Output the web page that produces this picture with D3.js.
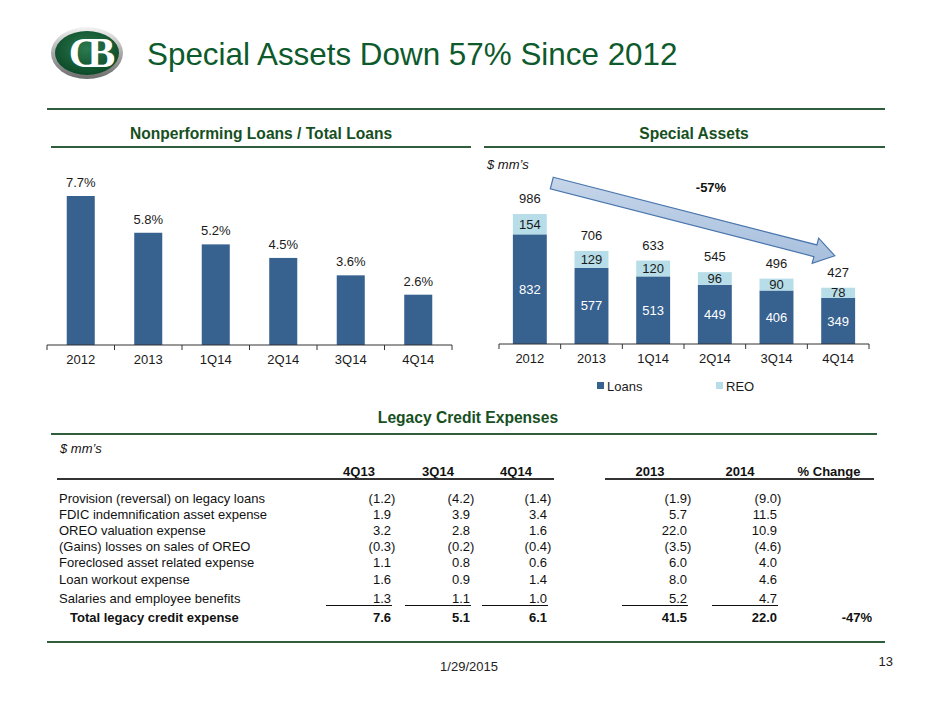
<!DOCTYPE html>
<head>
    <meta charset="utf-8">
    <title>Special Assets Down 57% Since 2012</title>
    <style>
        body { margin: 0; background: #fff; }
        svg { display: block; font-family: "Liberation Sans", Arial, sans-serif; }
        .rule { stroke: #2f5e3c; stroke-width: 2; }
        .section { font-size: 15.6px; font-weight: bold; fill: #17501f; text-anchor: middle; }
        .axis text { font-size: 13px; fill: #1a1a1a; }
        .axis path, .axis line { stroke: #333; }
        .lbl { font-size: 13px; fill: #1a1a1a; text-anchor: middle; }
        .tbl { font-size: 13px; fill: #111; }
    </style>
</head>
<body>

<svg width="940" height="705"></svg>

<script src="https://cdn.jsdelivr.net/npm/d3@7"></script>

<script>

    // ---- data ----
    var categories = ["2012", "2013", "1Q14", "2Q14", "3Q14", "4Q14"];
    var nplRatio = [7.7, 5.8, 5.2, 4.5, 3.6, 2.6];
    var loans = [832, 577, 513, 449, 406, 349];
    var reo = [154, 129, 120, 96, 90, 78];
    var totals = [986, 706, 633, 545, 496, 427];

    var rowLabels = [
        "Provision (reversal) on legacy loans",
        "FDIC indemnification asset expense",
        "OREO valuation expense",
        "(Gains) losses on sales of OREO",
        "Foreclosed asset related expense",
        "Loan workout expense",
        "Salaries and employee benefits"
    ];
    var colHeaders = ["4Q13", "3Q14", "4Q14", "2013", "2014", "% Change"];
    var col4Q13 = [-1.2, 1.9, 3.2, -0.3, 1.1, 1.6, 1.3];
    var col3Q14 = [-4.2, 3.9, 2.8, -0.2, 0.8, 0.9, 1.1];
    var col4Q14 = [-1.4, 3.4, 1.6, -0.4, 0.6, 1.4, 1.0];
    var col2013 = [-1.9, 5.7, 22.0, -3.5, 6.0, 8.0, 5.2];
    var col2014 = [-9.0, 11.5, 10.9, -4.6, 4.0, 4.6, 4.7];
    var totalRow = [7.6, 5.1, 6.1, 41.5, 22.0];
    var pctChange = "-47%";

    var svg = d3.select("svg");
    var loanColor = "#37618f", reoColor = "#b7dde8";

    var defs = svg.append("defs");

    // ---- logo ----
    var rim = defs.append("linearGradient").attr("id", "rim")
        .attr("x1", 0).attr("y1", 0).attr("x2", 0).attr("y2", 1);
    rim.append("stop").attr("offset", "0").attr("stop-color", "#f4f4f4");
    rim.append("stop").attr("offset", "0.5").attr("stop-color", "#a9a9a9");
    rim.append("stop").attr("offset", "1").attr("stop-color", "#6d6d6d");
    var inner = defs.append("radialGradient").attr("id", "inner")
        .attr("cx", "50%").attr("cy", "40%").attr("r", "60%");
    inner.append("stop").attr("offset", "0").attr("stop-color", "#2c7a4e");
    inner.append("stop").attr("offset", "1").attr("stop-color", "#0c4a28");

    var logo = svg.append("g").attr("transform", "translate(87,53)");
    logo.append("ellipse").attr("rx", 36).attr("ry", 26).attr("fill", "url(#rim)");
    logo.append("ellipse").attr("rx", 32).attr("ry", 22).attr("fill", "url(#inner)");
    logo.append("text")
        .attr("x", -1).attr("y", 14)
        .attr("text-anchor", "middle")
        .attr("font-family", "Liberation Serif, serif")
        .attr("font-weight", "bold")
        .attr("font-size", 42)
        .attr("letter-spacing", -12)
        .attr("fill", "#fff")
        .text("CB");

    // ---- title ----
    svg.append("text")
        .attr("x", 147).attr("y", 65)
        .attr("font-size", 31.4)
        .attr("fill", "#0d5a2c")
        .text("Special Assets Down 57% Since 2012");

    // ---- rules ----
    function rule(x1, x2, y) {
        svg.append("line").attr("class", "rule")
            .attr("x1", x1).attr("x2", x2).attr("y1", y).attr("y2", y);
    }
    rule(47, 885, 109);
    rule(51, 471, 147);
    rule(484, 885, 147);
    rule(51, 877, 434);
    rule(47, 885, 642);

    svg.append("text").attr("class", "section").attr("x", 261).attr("y", 139)
        .text("Nonperforming Loans / Total Loans");
    svg.append("text").attr("class", "section").attr("x", 694).attr("y", 139)
        .text("Special Assets");
    svg.append("text").attr("class", "section").attr("x", 468).attr("y", 423)
        .text("Legacy Credit Expenses");

    // band-boundary tick marks under a category axis
    function drawAxis(x, y0) {
        var g = svg.append("g").attr("class", "axis")
            .attr("transform", "translate(0," + y0 + ")")
            .call(d3.axisBottom(x).tickSize(0).tickPadding(10));
        g.select(".domain").attr("d", "M" + x.range()[0] + ",0H" + x.range()[1]);
        var edges = x.domain().map(function(d) { return x(d) - x.step() * x.paddingInner() / 2; });
        edges.push(x.range()[1]);
        g.selectAll(".edge").data(edges).enter().append("line")
            .attr("class", "edge")
            .attr("x1", function(d) { return d; }).attr("x2", function(d) { return d; })
            .attr("y1", 0).attr("y2", 5);
        g.selectAll(".tick text").attr("dy", "0.71em");
        return g;
    }

    // ---- left chart: NPL / total loans ----
    var xL = d3.scaleBand().domain(categories).range([47, 452])
        .paddingInner(0.585).paddingOuter(0.2925);
    var yL = d3.scaleLinear().domain([0, 8]).range([345, 190.2]);

    svg.append("g").selectAll("rect")
        .data(nplRatio)
        .enter().append("rect")
            .attr("x", function(d, i) { return xL(categories[i]); })
            .attr("y", function(d) { return yL(d); })
            .attr("width", xL.bandwidth())
            .attr("height", function(d) { return yL(0) - yL(d); })
            .attr("fill", loanColor);

    svg.append("g").selectAll("text")
        .data(nplRatio)
        .enter().append("text")
            .attr("class", "lbl")
            .attr("x", function(d, i) { return xL(categories[i]) + xL.bandwidth() / 2; })
            .attr("y", function(d) { return yL(d) - 9; })
            .text(function(d) { return d.toFixed(1) + "%"; });

    drawAxis(xL, 345);

    // ---- right chart: special assets ----
    var xR = d3.scaleBand().domain(categories).range([499, 869])
        .paddingInner(0.45).paddingOuter(0.225);
    var yR = d3.scaleLinear().domain([0, 1000]).range([344, 212.2]);

    var stack = categories.map(function(c, i) { return { cat: c, loans: loans[i], reo: reo[i], total: totals[i] }; });

    var bars = svg.append("g").selectAll("g")
        .data(stack)
        .enter().append("g");

    bars.append("rect")
        .attr("x", function(d) { return xR(d.cat); })
        .attr("y", function(d) { return yR(d.loans); })
        .attr("width", xR.bandwidth())
        .attr("height", function(d) { return yR(0) - yR(d.loans); })
        .attr("fill", loanColor);
    bars.append("rect")
        .attr("x", function(d) { return xR(d.cat); })
        .attr("y", function(d) { return yR(d.loans + d.reo); })
        .attr("width", xR.bandwidth())
        .attr("height", function(d) { return yR(d.loans) - yR(d.loans + d.reo); })
        .attr("fill", reoColor);

    var cx = function(d) { return xR(d.cat) + xR.bandwidth() / 2; };
    bars.append("text").attr("class", "lbl")
        .attr("x", cx)
        .attr("y", function(d) { return (yR(0) + yR(d.loans)) / 2 + 4.5; })
        .style("fill", "#fff")
        .text(function(d) { return d.loans; });
    bars.append("text").attr("class", "lbl")
        .attr("x", cx)
        .attr("y", function(d) { return (yR(d.loans) + yR(d.loans + d.reo)) / 2 + 4.5; })
        .text(function(d) { return d.reo; });
    bars.append("text").attr("class", "lbl")
        .attr("x", cx)
        .attr("y", function(d) { return yR(d.loans + d.reo) - 11; })
        .text(function(d) { return d.total; });

    drawAxis(xR, 344);

    svg.append("text")
        .attr("x", 487).attr("y", 169)
        .attr("font-size", 13).attr("font-style", "italic").attr("fill", "#111")
        .text("$ mm\u2019s");

    // legend
    var legend = svg.append("g").selectAll("g")
        .data([["Loans", loanColor], ["REO", reoColor]])
        .enter().append("g")
            .attr("transform", function(d, i) { return "translate(" + (597 + i * 119) + ",382)"; });
    legend.append("rect").attr("width", 7).attr("height", 7).attr("fill", function(d) { return d[1]; });
    legend.append("text").attr("x", 10).attr("y", 8.5)
        .attr("font-size", 13).attr("fill", "#1a1a1a")
        .text(function(d) { return d[0]; });

    // decline arrow from first to last bar
    var arrowGrad = defs.append("linearGradient").attr("id", "arrowFill")
        .attr("x1", 0).attr("y1", 0).attr("x2", 0).attr("y2", 1);
    arrowGrad.append("stop").attr("offset", "0").attr("stop-color", "#c6d6ea");
    arrowGrad.append("stop").attr("offset", "1").attr("stop-color", "#a7bfdd");

    var sx = xR("2012") + xR.bandwidth() + 5, sy = yR(totals[0]) - 31;
    var tx = xR("4Q14") + xR.bandwidth() * 0.4, ty = yR(totals[5]) - 32;
    var len = Math.hypot(tx - sx, ty - sy),
        ux = (tx - sx) / len, uy = (ty - sy) / len,
        nx = -uy, ny = ux;
    var shaft = 6, head = 13, headLen = 20;
    function pt(a, b) { return [sx + ux * a + nx * b, sy + uy * a + ny * b]; }
    var arrowPts = [pt(0, -shaft), pt(len - headLen, -shaft), pt(len - headLen, -head),
                    pt(len, 0), pt(len - headLen, head), pt(len - headLen, shaft), pt(0, shaft)];
    svg.append("path")
        .attr("d", d3.line()(arrowPts) + "Z")
        .attr("fill", "url(#arrowFill)")
        .attr("stroke", "#4a76ad")
        .attr("stroke-width", 1.2);

    svg.append("text")
        .attr("x", 711).attr("y", 192)
        .attr("text-anchor", "middle")
        .attr("font-size", 13).attr("font-weight", "bold").attr("fill", "#111")
        .text("-57%");

    // ---- table ----
    svg.append("text")
        .attr("x", 60).attr("y", 453)
        .attr("font-size", 13).attr("font-style", "italic").attr("fill", "#111")
        .text("$ mm\u2019s");

    var headerX = [359, 438, 516, 650, 740, 829];
    var colRight = [391, 470, 547, 687, 777];
    var columns = [col4Q13, col3Q14, col4Q14, col2013, col2014];

    svg.append("g").selectAll("text")
        .data(colHeaders)
        .enter().append("text")
            .attr("class", "tbl")
            .attr("x", function(d, i) { return headerX[i]; })
            .attr("y", 475.5)
            .attr("text-anchor", "middle")
            .attr("font-weight", "bold")
            .text(function(d) { return d; });

    svg.append("line").attr("x1", 57).attr("x2", 554).attr("y1", 479).attr("y2", 479)
        .attr("stroke", "#333").attr("stroke-width", 2);
    svg.append("line").attr("x1", 605).attr("x2", 874).attr("y1", 479).attr("y2", 479)
        .attr("stroke", "#333").attr("stroke-width", 2);

    var rowY = d3.scaleLinear().domain([0, 5]).range([502.5, 583.5]);
    var yOf = function(i) { return i < 6 ? rowY(i) : 603; };
    var totalY = 622;

    svg.append("g").selectAll("text")
        .data(rowLabels)
        .enter().append("text")
            .attr("class", "tbl")
            .attr("x", 59)
            .attr("y", function(d, i) { return yOf(i); })
            .text(function(d) { return d; });

    columns.forEach(function(col, c) {
        var g = svg.append("g");
        col.forEach(function(v, i) {
            g.append("text").attr("class", "tbl")
                .attr("x", colRight[c]).attr("y", yOf(i))
                .attr("text-anchor", "end")
                .text(v < 0 ? "(" + (-v).toFixed(1) : v.toFixed(1));
            if (v < 0) {
                g.append("text").attr("class", "tbl")
                    .attr("x", colRight[c]).attr("y", yOf(i))
                    .text(")");
            }
        });
        g.append("line")
            .attr("x1", colRight[c] - 65).attr("x2", colRight[c] + 1)
            .attr("y1", 605.5).attr("y2", 605.5)
            .attr("stroke", "#111").attr("stroke-width", 1);
        g.append("text").attr("class", "tbl")
            .attr("x", colRight[c]).attr("y", totalY)
            .attr("text-anchor", "end").attr("font-weight", "bold")
            .text(totalRow[c].toFixed(1));
    });

    svg.append("text").attr("class", "tbl")
        .attr("x", 70).attr("y", totalY).attr("font-weight", "bold")
        .text("Total legacy credit expense");
    svg.append("text").attr("class", "tbl")
        .attr("x", 872).attr("y", totalY)
        .attr("text-anchor", "end").attr("font-weight", "bold")
        .text(pctChange);

    // ---- footer ----
    svg.append("text")
        .attr("x", 469).attr("y", 670.5)
        .attr("text-anchor", "middle").attr("font-size", 13).attr("fill", "#222")
        .text("1/29/2015");
    svg.append("text")
        .attr("x", 893).attr("y", 665.5)
        .attr("text-anchor", "end").attr("font-size", 13).attr("fill", "#222")
        .text("13");

</script>

</body>
